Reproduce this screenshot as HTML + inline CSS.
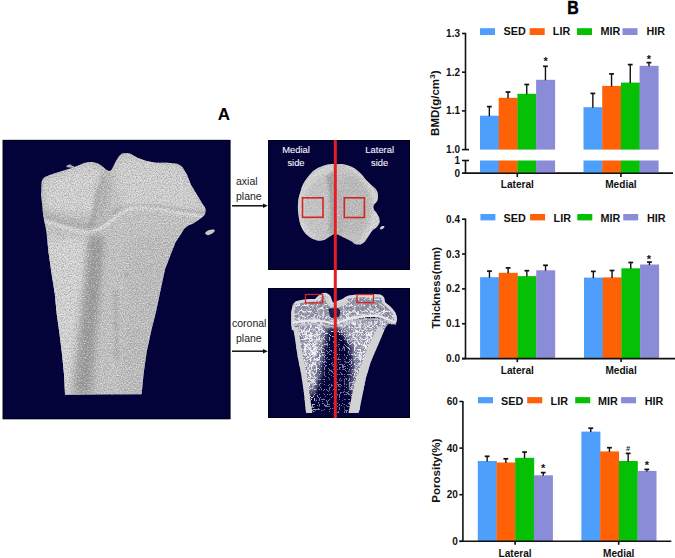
<!DOCTYPE html>
<html><head><meta charset="utf-8"><style>
*{margin:0;padding:0}
html,body{width:675px;height:558px;background:#fff;overflow:hidden}
svg{display:block}
text{font-family:"Liberation Sans", sans-serif}
.ax{stroke:#111;stroke-width:1.6;fill:none}
.eb{stroke:#111;stroke-width:1.4}
.ec{stroke:#111;stroke-width:1.7}
.lg{font-size:10.8px;font-weight:bold;fill:#111}
.tk{font-size:10px;font-weight:bold;fill:#111}
.xl{font-size:10.1px;font-weight:bold;fill:#111}
.yt{font-size:10.6px;font-weight:bold;fill:#111}
.st{font-size:11px;font-weight:bold;fill:#111;text-anchor:middle}
.hs{font-size:7.5px;font-weight:bold;fill:#222;text-anchor:middle}
.pl{font-size:9.4px;fill:#f4f4fc;stroke:#f4f4fc;stroke-width:0.1}
.ar{font-size:10.5px;fill:#222}
.AB{font-size:17px;font-weight:bold;fill:#000}
.B{font-size:18.5px;font-weight:bold;fill:#000}
</style></head>
<body><svg width="675" height="558" viewBox="0 0 675 558">
<defs>
</defs>
<rect x="2.7" y="139.9" width="227.7" height="279.3" fill="#03033a"/>
<rect x="268" y="140" width="142" height="130" fill="#03033a"/>
<rect x="268" y="288" width="142" height="130" fill="#03033a"/>
<defs>
<clipPath id="cb"><path id="pb" d="M41.6,182.6 C42,179 44,177 46.1,176.4 L53.3,173.7 L62.3,171 L71.2,168.3 L80.2,164.7 C84,163 87,162 89.1,162 C93,162 96,162.5 99,164 C103,166 105,169 107.5,170.5 C109.5,171.5 111,171 112,169 L116,161.1 C118,157 120,155 122,153.5 C125,152.5 128,153 130,153.5 L137.6,157.8 L145.5,160.8 L155.3,162.7 L167.2,162.7 L177,163.7 C180,165 182,166 183,168 L186.9,174.6 L190.8,184.4 L196.7,194.3 L202.6,204.1 C205,207 206,209 205.6,211 C205.5,213 205,214 204,215.5 L198.7,219.9 L192.8,223.8 L187.9,225.8 C185,227.5 183.5,230 181.7,233 L175.6,242.2 L169.6,257.4 L165,269.6 L160.4,290.9 L155.9,312.2 L151.3,330.4 L146.7,351.7 L143.7,373 L141.6,394.3 L65,394.8 L64.1,375.5 L62.1,355 L59.6,334.4 L56.7,313.9 L54.7,293.3 L51.4,272.8 L48.5,252.2 L46.4,231.7 L43.2,215.2 L41.1,194.7 Z"/></clipPath>
<filter id="bl3"><feGaussianBlur stdDeviation="3"/></filter>
<filter id="bl2"><feGaussianBlur stdDeviation="1.6"/></filter>
<filter id="bl1"><feGaussianBlur stdDeviation="0.8"/></filter>
<filter id="gr" x="0" y="0" width="100%" height="100%"><feTurbulence type="fractalNoise" baseFrequency="0.85" numOctaves="3" seed="7"/><feColorMatrix type="matrix" values="0 0 0 0 0.25  0 0 0 0 0.25  0 0 0 0 0.25  3.2 0 0 0 -1.5"/></filter>
<filter id="gw" x="0" y="0" width="100%" height="100%"><feTurbulence type="fractalNoise" baseFrequency="0.85" numOctaves="3" seed="7"/><feColorMatrix type="matrix" values="0 0 0 0 1  0 0 0 0 1  0 0 0 0 1  -3.2 0 0 0 1.6"/></filter>
</defs>
<use href="#pb" fill="#c2c2c2"/>
<g clip-path="url(#cb)">
  <!-- left shaft brighter -->
  <path d="M44,240 L92,236 L80,395 L60,395 Z" fill="#d4d4d4" filter="url(#bl3)"/>
  <!-- condyle tops brighter -->
  <path d="M45,180 C60,172 85,165 98,168 C104,180 100,200 96,212 C80,214 60,212 46,208 Z" fill="#d2d2d2" filter="url(#bl3)"/>
  <path d="M118,160 C130,156 160,162 180,166 C190,180 200,200 200,212 C180,210 150,206 125,210 C118,195 115,175 118,160 Z" fill="#d0d0d0" filter="url(#bl3)"/>
  <!-- left condyle crescent -->
  <path d="M106,171 C101,182 99,196 97,212 C96,218 94,224 90,229 L86,228 C91,220 93,212 94,204 C96,192 100,180 106,171 Z" fill="#8a8a8a" filter="url(#bl2)" opacity="0.6"/>
  <!-- notch shadow -->
  <path d="M104,170 C110,175 112,185 108,205 C104,215 100,222 96,226 C94,215 98,195 100,180 Z" fill="#9a9a9a" filter="url(#bl3)" opacity="0.45"/>
  <!-- shadow above growth plate left -->
  <path d="M42,210 C60,216 80,222 96,224 C100,222 106,218 112,210 L112,216 C104,224 98,230 90,230 C74,228 58,224 42,219 Z" fill="#a0a0a0" filter="url(#bl2)" opacity="0.5"/>
  <!-- shadow above growth plate right -->
  <path d="M112,210 C125,203 145,203 165,206 C180,208 195,210 206,212 L206,215 C190,213 170,210 150,209 C135,208 122,210 114,216 Z" fill="#a0a0a0" filter="url(#bl1)" opacity="0.5"/>
  <!-- growth plate light band -->
  <path d="M42,220 C55,224 70,230 84.4,232.2 C92,233 100,230 111,221 C117,215 124,210 133.3,207.8 C145,206.5 160,209 184.4,214 L206,217" fill="none" stroke="#e2e2e2" stroke-width="2.6" filter="url(#bl1)"/>
  <!-- dark streak -->
  <path d="M88,236 L104,236 C102,280 96,330 92,395 L72,395 C78,330 85,280 88,236 Z" fill="#959595" filter="url(#bl3)" opacity="0.85"/>
  <path d="M94,236 L100,236 C99,280 92,340 86,395 L80,395 C85,340 92,280 94,236 Z" fill="#8a8a8a" filter="url(#bl3)" opacity="0.35"/>
  <path d="M113,290 L118,290 L119,360 L114,360 Z" fill="#a0a0a0" filter="url(#bl2)" opacity="0.5"/>
  <circle cx="126" cy="275" r="1.8" fill="#909090" filter="url(#bl1)"/>
  <!-- right shaft midtone -->
  <path d="M130,240 L172,236 L145,395 L120,395 Z" fill="#b8b8b8" filter="url(#bl3)" opacity="0.6"/>
  <!-- texture -->
  <rect x="30" y="140" width="190" height="270" filter="url(#gr)" opacity="0.55"/>
  <rect x="30" y="140" width="190" height="270" filter="url(#gw)" opacity="0.5"/>
</g>
<!-- fragments -->
<path d="M66,167 C68,164 71,164 72,166 C74,165 75,167 73,168 Z" fill="#b0b0b0"/>
<path d="M205,233 C207,230 211,229 214,229.5 C216,230.5 214,233 210,234.5 C208,236 206,235 205,233 Z" fill="#c8c8c8"/>

<defs>
<clipPath id="ca"><path id="pa" d="M333.9,164 C330,164 328,164.4 325.8,164.9 C322,166 319,167 316.9,168.4 C313.5,170.5 311.5,172.5 309.7,174.7 C307.5,177.5 305.8,179.5 304.3,181.9 C302.5,185 301.5,188 300.8,190.8 C299.5,194.5 298.5,198 298.1,201.6 C297.8,205 297.8,209 298.1,212.3 C298.5,216 299,219.5 299.9,223.1 C301,226.5 302.5,229.5 304.3,232.1 C306.5,234.8 309,236.8 311.5,238.3 C314,239.6 316.5,240.5 318.7,240.7 C321.5,240.8 323.8,240.2 325.8,239.2 C328,238 329.8,236.8 331.2,235.6 L333.9,233.9 L338.4,234.7 L343.8,237.4 L350.9,241 C353,242.5 354.5,244 356.3,244.6 L360.8,244.6 C362.5,243.5 364,242.5 365.3,241 L368.9,235.6 L372.4,230.3 C375,228.5 376.8,227.5 377.8,225.8 C379,224 379.8,222.5 379.6,221.3 C379.5,219.5 379.5,218.5 378.7,216.8 L376,212.3 C374.5,210.5 373.5,209.5 373.3,207.9 C373.3,206 373.6,205 374.2,204.3 C375.8,202.5 377.2,201.5 377.5,199.8 C378,197.5 378.2,195.5 377.8,193.5 C377.2,191 376.3,189.5 375.1,188.2 L370.6,184.6 L365.3,179.2 C363.5,176.5 361.3,174 359,172 C356.5,169.5 353.8,167.8 350.9,166.6 C348,165.3 345,164.5 342,164 Z"/></clipPath>
</defs>
<use href="#pa" fill="#c3c3c3"/>
<g clip-path="url(#ca)">
  <path d="M298,200 C300,180 315,166 334,164 L334,172 C320,174 306,185 304,205 C303,222 310,236 322,238 L300,240 Z" fill="#d2d2d2" filter="url(#bl2)"/>
  <path d="M326,176 C330,188 331,212 329,234 L334,234 L334,172 Z" fill="#8e8e8e" filter="url(#bl2)" opacity="0.75"/>
  <path d="M337,190 C340,205 340,220 338,234 L342,236 C344,222 344,205 340,188 Z" fill="#999" filter="url(#bl2)" opacity="0.5"/>
  <path d="M338,178 C345,172 360,176 368,188 C374,200 372,214 366,226 C358,238 346,236 340,232 Z" fill="#b4b4b4" filter="url(#bl3)" opacity="0.7"/>
  <path d="M342,164 C355,166 365,175 372,186 L378,194 L380,222 L372,232 L364,242 L357,245 L362,238 C370,226 375,212 372,198 C368,184 358,172 342,166 Z" fill="#d4d4d4" filter="url(#bl2)"/>
  <rect x="290" y="155" width="100" height="100" filter="url(#gr)" opacity="0.3"/>
  <rect x="290" y="155" width="100" height="100" filter="url(#gw)" opacity="0.4"/>
</g>
<path d="M380,228 C381,226 383.5,225.5 384.5,226.5 C384.5,228 382.5,229.5 380.5,229.5 Z" fill="#d0d0d0"/>
<rect x="302.5" y="197.8" width="20.5" height="19.5" fill="none" stroke="#d42525" stroke-width="1.6"/>
<rect x="344.3" y="197.8" width="20.1" height="19.7" fill="none" stroke="#d42525" stroke-width="1.6"/>

<defs>
<clipPath id="cc"><path id="pc" d="M294.4,304.5 C296,302.5 297,302 298.6,301.9 L305.4,300.6 L315.7,300.2 C318,298 320,295.5 321.6,295.1 C323,294.4 324.5,294.2 325.9,294.3 C327.5,295 328.7,296 329.3,296.8 C330.2,298.5 330.6,300.5 331,301.9 L333.6,304.5 L336.1,302.8 L342.9,300.2 C345,299 346,298 347.2,297.7 L348.9,296.8 L356.6,296 L373.6,295.5 L380.4,296 C381.8,296.5 382.6,297.5 383,298.5 L383.8,302.8 C385.5,304.5 387.3,305.8 388.9,307 C391,309 392.8,311 394,313 C395,315 395.6,317 395.7,319 C395.7,320.5 395.4,321.7 394.9,322.4 L390.6,323.2 C388,324 386,326 384.4,330 L378,345 L370.6,362.3 L365.8,378.4 L362.6,394.5 L359.4,410.6 L358.5,413 L306.1,413 L305.6,409.6 L303.8,391.7 L301.1,373.8 L297.5,355.8 L294.9,337.9 L293.1,327.2 L292.7,324.1 L292.7,312.1 Z"/></clipPath>
<filter id="trab" x="0" y="0" width="100%" height="100%"><feTurbulence type="turbulence" baseFrequency="0.17" numOctaves="2" seed="5"/><feColorMatrix type="matrix" values="0 0 0 0 0.9  0 0 0 0 0.9  0 0 0 0 0.92  -7 0 0 0 1.35"/></filter>
<filter id="trabM" x="0" y="0" width="100%" height="100%"><feTurbulence type="turbulence" baseFrequency="0.18" numOctaves="2" seed="15"/><feColorMatrix type="matrix" values="0 0 0 0 0.9  0 0 0 0 0.9  0 0 0 0 0.92  -6 0 0 0 1.4"/></filter>
<filter id="trab2" x="0" y="0" width="100%" height="100%"><feTurbulence type="turbulence" baseFrequency="0.4" numOctaves="1" seed="9"/><feColorMatrix type="matrix" values="0 0 0 0 0.98  0 0 0 0 0.98  0 0 0 0 1  -9 0 0 0 1.1"/></filter>
<filter id="trabS" x="0" y="0" width="100%" height="100%"><feTurbulence type="turbulence" baseFrequency="0.2" numOctaves="1" seed="21"/><feColorMatrix type="matrix" values="0 0 0 0 0.95  0 0 0 0 0.95  0 0 0 0 0.97  -30 0 0 0 1.5"/></filter>
<filter id="bl4"><feGaussianBlur stdDeviation="3"/></filter>
<mask id="mmeta" maskUnits="userSpaceOnUse" x="285" y="290" width="125" height="130">
  <g filter="url(#bl4)">
    <path d="M296,322 L328,324 L325,338 L322,352 L320,372 L314,392 L308,396 L300,360 Z" fill="#fff"/>
    <path d="M340,322 L392,318 L382,338 L372,360 L364,380 L356,395 L351,390 L354,360 L350,342 L343,332 Z" fill="#fff"/>
    <rect x="292" y="318" width="104" height="10" fill="#fff"/>
  </g>
</mask>
<mask id="msp" maskUnits="userSpaceOnUse" x="285" y="290" width="125" height="130">
  <rect x="285" y="330" width="125" height="90" fill="#fff"/>
  <path d="M326,338 L346,338 L352,360 L352,416 L314,416 L318,380 L322,360 Z" fill="#000" opacity="0.45" filter="url(#bl4)"/>
</mask>
</defs>
<g clip-path="url(#cc)">
  <!-- epiphysis base -->
  <path d="M290,290 L400,290 L400,323 C385,318 370,314 356.6,317.3 C348,319 342,321 334.4,324.1 C326,322 315,320.5 295,322.4 L290,323 Z" fill="#8a8a9e"/>
  <rect x="285" y="290" width="125" height="36" filter="url(#trab)"/>
  <rect x="285" y="290" width="125" height="36" filter="url(#trab2)" opacity="0.35"/>
  <!-- metaphysis dense -->
  <g mask="url(#mmeta)">
    <rect x="285" y="318" width="125" height="100" fill="#9090a6"/>
    <rect x="285" y="318" width="125" height="100" filter="url(#trabM)"/>
    <rect x="285" y="318" width="125" height="100" filter="url(#trab2)" opacity="0.6"/>
  </g>
  <g mask="url(#msp)"><rect x="285" y="330" width="125" height="90" filter="url(#trabS)" opacity="0.85"/></g>
  <path d="M324,296 C327,296 330,299 331.5,303 C333,306 336,305 338,303 C341,301 344,299 347,298.5 L348,303 C344,305 341,307 338,307.5 C334,308 331,307 328,305 C326,302 324.5,299 324,296 Z" fill="#d0d0d4"/>
  <!-- notch hole -->
  <path d="M328.5,309 C330,307.5 333,309 334,308 C336,306.5 338,308 339.5,309.5 C341,312 340,315 338.5,317 C336,318.5 334,317 332,318 C330,317 329,313 328.5,309 Z" fill="#03033a" opacity="0.85"/>
</g>
<!-- cortical shells -->
<path d="M293.1,327.2 L294.9,337.9 L297.5,355.8 L301.1,373.8 L303.8,391.7 L305.6,409.6 L306.1,413 L312.3,413 L311.9,409.6 L309.2,391.7 L306.5,373.8 L302.9,355.8 C301,345 299.5,336 298.4,327 Z" fill="#d2d2d4"/>
<path d="M384.4,330 L378,345 L370.6,362.3 L365.8,378.4 L362.6,394.5 L359.4,410.6 L358.5,413 L348.5,413 L348.9,410.6 L352.1,394.5 L356.1,378.4 L362.6,362.3 C366,352 369,344 372.5,337 C375,332 377.5,328 379,326 Z" fill="#d2d2d4"/>
<!-- cortical rim top -->
<path d="M294.4,304.5 C296,302.5 297,302 298.6,301.9 L305.4,300.6 L315.7,300.2 C318,298 320,295.5 321.6,295.1 C323,294.4 324.5,294.2 325.9,294.3 C327.5,295 328.7,296 329.3,296.8 C330.2,298.5 330.6,300.5 331,301.9 L333.6,304.5 M336.1,302.8 L342.9,300.2 C345,299 346,298 347.2,297.7 L348.9,296.8 L356.6,296 L373.6,295.5 L380.4,296 C381.8,296.5 382.6,297.5 383,298.5 L383.8,302.8 C385.5,304.5 387.3,305.8 388.9,307 C391,309 392.8,311 394,313 C395,315 395.6,317 395.7,319 C395.7,320.5 395.4,321.7 394.9,322.4 L390.6,323.2" fill="none" stroke="#d8d8da" stroke-width="2.8"/>
<path d="M294.4,304.5 L292.7,312.1 L292.7,324.1 L293.5,330" fill="none" stroke="#d4d4d6" stroke-width="3.2"/>
<!-- growth plate -->
<path d="M293,322.8 C300,321.5 305,320.8 310.6,320.7 C316,320.6 320,321 324.2,321.5 C328,322.2 331,323.2 334.4,324.1 C337,323.2 339,322.3 341.2,321.5 C346,319.8 351,318.2 356.6,317.3 C362,316.4 368,315.6 373.6,315.6 C379,315.8 383,317 387.2,319 L394.5,322.4" fill="none" stroke="#e8e8ea" stroke-width="2.2"/>
<path d="M291,325 C300,324.5 310,324 320,324.5 C326,325.5 331,326.5 334.5,327 C345,322.5 360,319.5 375,319 C385,319.5 390,321.5 396,324.5" fill="none" stroke="#c4c4cc" stroke-width="1.4" opacity="0.7"/>
<rect x="305.5" y="294.5" width="17.2" height="8.4" fill="none" stroke="#d42525" stroke-width="1.3"/>
<rect x="357" y="294.5" width="16.5" height="8.1" fill="none" stroke="#d42525" stroke-width="1.3"/>

<rect x="3.2" y="140.4" width="226.7" height="278.3" fill="none" stroke="#000014" stroke-width="1" opacity="0.8"/>
<rect x="268.5" y="140.5" width="141" height="129" fill="none" stroke="#000014" stroke-width="1" opacity="0.8"/>
<rect x="268.5" y="288.5" width="141" height="129" fill="none" stroke="#000014" stroke-width="1" opacity="0.8"/>
<line x1="335.3" y1="140" x2="335.3" y2="418" stroke="#e41c24" stroke-width="3"/>
<text x="296" y="153" class="pl" text-anchor="middle">Medial</text>
<text x="296" y="165.5" class="pl" text-anchor="middle">side</text>
<text x="379.7" y="153" class="pl" text-anchor="middle">Lateral</text>
<text x="379.7" y="165.5" class="pl" text-anchor="middle">side</text>
<text x="236" y="185.4" class="ar">axial</text>
<text x="236" y="199.8" class="ar">plane</text>
<line x1="232" y1="205.8" x2="263" y2="205.8" stroke="#111" stroke-width="1.5"/>
<path d="M263,203.6 L267.8,205.8 L263,208 Z" fill="#111"/>
<text x="232" y="327.2" class="ar">coronal</text>
<text x="236" y="341.5" class="ar">plane</text>
<line x1="232" y1="351.2" x2="263" y2="351.2" stroke="#111" stroke-width="1.5"/>
<path d="M263,349 L267.8,351.2 L263,353.4 Z" fill="#111"/>
<text x="224" y="120.2" class="AB" text-anchor="middle">A</text>
<text transform="translate(573,14) scale(0.86,1)" class="B" text-anchor="middle" stroke="#000" stroke-width="0.5">B</text>
<line x1="465.5" y1="32.8" x2="465.5" y2="150" class="ax"/>
<line x1="462" y1="33.5" x2="465.5" y2="33.5" class="ax"/>
<line x1="462" y1="72.2" x2="465.5" y2="72.2" class="ax"/>
<line x1="462" y1="110.9" x2="465.5" y2="110.9" class="ax"/>
<line x1="462" y1="149.6" x2="469" y2="149.6" class="ax"/>
<line x1="462" y1="160.5" x2="469" y2="160.5" class="ax"/>
<line x1="465.5" y1="160.5" x2="465.5" y2="173.2" class="ax"/>
<line x1="462" y1="173.2" x2="673" y2="173.2" class="ax"/>
<line x1="517.3" y1="173" x2="517.3" y2="177" class="ax"/>
<line x1="620.9" y1="173" x2="620.9" y2="177" class="ax"/>
<text x="460" y="37.0" class="tk" text-anchor="end">1.3</text>
<text x="460" y="75.7" class="tk" text-anchor="end">1.2</text>
<text x="460" y="114.4" class="tk" text-anchor="end">1.1</text>
<text x="460" y="153.1" class="tk" text-anchor="end">1.0</text>
<text x="460" y="164.0" class="tk" text-anchor="end">1</text>
<text x="460" y="176.7" class="tk" text-anchor="end">0</text>
<rect x="480" y="28.2" width="15" height="6.80" fill="#4e9ffc"/>
<text x="503.5" y="35.3" class="lg">SED</text>
<rect x="529.7" y="28.2" width="15" height="6.80" fill="#ff6206"/>
<text x="552.8" y="35.3" class="lg">LIR</text>
<rect x="577" y="28.2" width="15" height="6.80" fill="#06c006"/>
<text x="600.4" y="35.3" class="lg">MIR</text>
<rect x="622.5" y="28.2" width="15" height="6.80" fill="#8a8cd8"/>
<text x="646.5" y="35.3" class="lg">HIR</text>
<rect x="480.00" y="115.7" width="19.00" height="33.90" fill="#4e9ffc"/>
<rect x="498.70" y="97.8" width="19.00" height="51.80" fill="#ff6206"/>
<rect x="517.40" y="93.8" width="19.00" height="55.80" fill="#06c006"/>
<rect x="536.10" y="79.8" width="19.00" height="69.80" fill="#8a8cd8"/>
<line x1="489.35" y1="116.2" x2="489.35" y2="106.6" class="eb"/>
<line x1="486.95" y1="106.6" x2="491.75" y2="106.6" class="ec"/>
<line x1="508.05" y1="98.3" x2="508.05" y2="92" class="eb"/>
<line x1="505.65" y1="92" x2="510.45" y2="92" class="ec"/>
<line x1="526.75" y1="94.3" x2="526.75" y2="84.5" class="eb"/>
<line x1="524.35" y1="84.5" x2="529.15" y2="84.5" class="ec"/>
<line x1="545.45" y1="80.3" x2="545.45" y2="66.3" class="eb"/>
<line x1="543.05" y1="66.3" x2="547.85" y2="66.3" class="ec"/>
<rect x="583.50" y="107.2" width="19.00" height="42.40" fill="#4e9ffc"/>
<rect x="602.20" y="85.9" width="19.00" height="63.70" fill="#ff6206"/>
<rect x="620.90" y="82.6" width="19.00" height="67.00" fill="#06c006"/>
<rect x="639.60" y="65.8" width="19.00" height="83.80" fill="#8a8cd8"/>
<line x1="592.85" y1="107.7" x2="592.85" y2="93.4" class="eb"/>
<line x1="590.45" y1="93.4" x2="595.25" y2="93.4" class="ec"/>
<line x1="611.55" y1="86.4" x2="611.55" y2="73.9" class="eb"/>
<line x1="609.15" y1="73.9" x2="613.95" y2="73.9" class="ec"/>
<line x1="630.25" y1="83.1" x2="630.25" y2="64.6" class="eb"/>
<line x1="627.85" y1="64.6" x2="632.65" y2="64.6" class="ec"/>
<line x1="648.95" y1="66.3" x2="648.95" y2="62.6" class="eb"/>
<line x1="646.55" y1="62.6" x2="651.35" y2="62.6" class="ec"/>
<rect x="480.00" y="160.5" width="19" height="12.7" fill="#4e9ffc"/>
<rect x="583.50" y="160.5" width="19" height="12.7" fill="#4e9ffc"/>
<rect x="498.70" y="160.5" width="19" height="12.7" fill="#ff6206"/>
<rect x="602.20" y="160.5" width="19" height="12.7" fill="#ff6206"/>
<rect x="517.40" y="160.5" width="19" height="12.7" fill="#06c006"/>
<rect x="620.90" y="160.5" width="19" height="12.7" fill="#06c006"/>
<rect x="536.10" y="160.5" width="19" height="12.7" fill="#8a8cd8"/>
<rect x="639.60" y="160.5" width="19" height="12.7" fill="#8a8cd8"/>
<line x1="462" y1="173.2" x2="673" y2="173.2" class="ax"/>
<text x="545.6" y="65.3" class="st">*</text>
<text x="649" y="62.6" class="st">*</text>
<text x="517.3" y="188" class="xl" text-anchor="middle">Lateral</text>
<text x="620.9" y="188" class="xl" text-anchor="middle">Medial</text>
<text transform="translate(439,103.2) rotate(-90) scale(1.09,1)" class="yt" text-anchor="middle">BMD(g/cm<tspan dy="-4" font-size="7.5">3</tspan><tspan dy="4">)</tspan></text>
<line x1="465.5" y1="218.5" x2="465.5" y2="358.6" class="ax"/>
<line x1="462" y1="219.20" x2="465.5" y2="219.20" class="ax"/>
<text x="460" y="222.70" class="tk" text-anchor="end">0.4</text>
<line x1="462" y1="254.05" x2="465.5" y2="254.05" class="ax"/>
<text x="460" y="257.55" class="tk" text-anchor="end">0.3</text>
<line x1="462" y1="288.90" x2="465.5" y2="288.90" class="ax"/>
<text x="460" y="292.40" class="tk" text-anchor="end">0.2</text>
<line x1="462" y1="323.75" x2="465.5" y2="323.75" class="ax"/>
<text x="460" y="327.25" class="tk" text-anchor="end">0.1</text>
<line x1="462" y1="358.60" x2="465.5" y2="358.60" class="ax"/>
<text x="460" y="362.10" class="tk" text-anchor="end">0.0</text>
<rect x="480.4" y="214" width="15" height="6.40" fill="#4e9ffc"/>
<text x="503.5" y="221.6" class="lg">SED</text>
<rect x="530.1" y="214" width="15" height="6.40" fill="#ff6206"/>
<text x="553.6" y="221.6" class="lg">LIR</text>
<rect x="577.3" y="214" width="15" height="6.40" fill="#06c006"/>
<text x="600.4" y="221.6" class="lg">MIR</text>
<rect x="623.2" y="214" width="15" height="6.40" fill="#8a8cd8"/>
<text x="646.9" y="221.6" class="lg">HIR</text>
<rect x="480.10" y="277.2" width="19.00" height="81.40" fill="#4e9ffc"/>
<rect x="498.80" y="272.8" width="19.00" height="85.80" fill="#ff6206"/>
<rect x="517.50" y="276.1" width="19.00" height="82.50" fill="#06c006"/>
<rect x="536.20" y="270.3" width="19.00" height="88.30" fill="#8a8cd8"/>
<line x1="489.45" y1="277.7" x2="489.45" y2="271.1" class="eb"/>
<line x1="487.05" y1="271.1" x2="491.85" y2="271.1" class="ec"/>
<line x1="508.15" y1="273.3" x2="508.15" y2="267.9" class="eb"/>
<line x1="505.75" y1="267.9" x2="510.55" y2="267.9" class="ec"/>
<line x1="526.85" y1="276.6" x2="526.85" y2="270.7" class="eb"/>
<line x1="524.45" y1="270.7" x2="529.25" y2="270.7" class="ec"/>
<line x1="545.55" y1="270.8" x2="545.55" y2="265.3" class="eb"/>
<line x1="543.15" y1="265.3" x2="547.95" y2="265.3" class="ec"/>
<rect x="584.00" y="277.6" width="19.00" height="81.00" fill="#4e9ffc"/>
<rect x="602.70" y="277.4" width="19.00" height="81.20" fill="#ff6206"/>
<rect x="621.40" y="268.3" width="19.00" height="90.30" fill="#06c006"/>
<rect x="640.10" y="264.5" width="19.00" height="94.10" fill="#8a8cd8"/>
<line x1="593.35" y1="278.1" x2="593.35" y2="271.4" class="eb"/>
<line x1="590.95" y1="271.4" x2="595.75" y2="271.4" class="ec"/>
<line x1="612.05" y1="277.9" x2="612.05" y2="270.5" class="eb"/>
<line x1="609.65" y1="270.5" x2="614.45" y2="270.5" class="ec"/>
<line x1="630.75" y1="268.8" x2="630.75" y2="262.5" class="eb"/>
<line x1="628.35" y1="262.5" x2="633.15" y2="262.5" class="ec"/>
<line x1="649.45" y1="265.0" x2="649.45" y2="262.1" class="eb"/>
<line x1="647.05" y1="262.1" x2="651.85" y2="262.1" class="ec"/>
<line x1="462" y1="358.6" x2="675" y2="358.6" class="ax"/>
<line x1="517.3" y1="358.6" x2="517.3" y2="362.1" class="ax"/>
<line x1="621.1" y1="358.6" x2="621.1" y2="362.1" class="ax"/>
<text x="649" y="262.8" class="st">*</text>
<text x="517.3" y="373.5" class="xl" text-anchor="middle">Lateral</text>
<text x="621.1" y="373.5" class="xl" text-anchor="middle">Medial</text>
<text transform="translate(439.5,287.9) rotate(-90) scale(1.055,1)" class="yt" text-anchor="middle">Thickness(mm)</text>
<line x1="462.9" y1="401" x2="462.9" y2="541.3" class="ax"/>
<line x1="459.4" y1="401.50" x2="462.9" y2="401.50" class="ax"/>
<text x="457.8" y="405.00" class="tk" text-anchor="end">60</text>
<line x1="459.4" y1="448.10" x2="462.9" y2="448.10" class="ax"/>
<text x="457.8" y="451.60" class="tk" text-anchor="end">40</text>
<line x1="459.4" y1="494.70" x2="462.9" y2="494.70" class="ax"/>
<text x="457.8" y="498.20" class="tk" text-anchor="end">20</text>
<line x1="459.4" y1="541.30" x2="462.9" y2="541.30" class="ax"/>
<text x="457.8" y="544.80" class="tk" text-anchor="end">0</text>
<rect x="478" y="397.1" width="15" height="6.20" fill="#4e9ffc"/>
<text x="501.1" y="404.6" class="lg">SED</text>
<rect x="527.2" y="397.1" width="15" height="6.20" fill="#ff6206"/>
<text x="550.6" y="404.6" class="lg">LIR</text>
<rect x="575.2" y="397.1" width="15" height="6.20" fill="#06c006"/>
<text x="598" y="404.6" class="lg">MIR</text>
<rect x="621.1" y="397.1" width="15" height="6.20" fill="#8a8cd8"/>
<text x="644.8" y="404.6" class="lg">HIR</text>
<rect x="477.80" y="461" width="19.00" height="80.30" fill="#4e9ffc"/>
<rect x="496.50" y="462.5" width="19.00" height="78.80" fill="#ff6206"/>
<rect x="515.20" y="457.8" width="19.00" height="83.50" fill="#06c006"/>
<rect x="533.90" y="475.3" width="19.00" height="66.00" fill="#8a8cd8"/>
<line x1="487.15" y1="461.5" x2="487.15" y2="456.3" class="eb"/>
<line x1="484.75" y1="456.3" x2="489.55" y2="456.3" class="ec"/>
<line x1="505.85" y1="463.0" x2="505.85" y2="458.8" class="eb"/>
<line x1="503.45" y1="458.8" x2="508.25" y2="458.8" class="ec"/>
<line x1="524.55" y1="458.3" x2="524.55" y2="452.1" class="eb"/>
<line x1="522.15" y1="452.1" x2="526.95" y2="452.1" class="ec"/>
<line x1="543.25" y1="475.8" x2="543.25" y2="472.6" class="eb"/>
<line x1="540.85" y1="472.6" x2="545.65" y2="472.6" class="ec"/>
<rect x="581.40" y="431.6" width="19.00" height="109.70" fill="#4e9ffc"/>
<rect x="600.10" y="451.4" width="19.00" height="89.90" fill="#ff6206"/>
<rect x="618.80" y="461" width="19.00" height="80.30" fill="#06c006"/>
<rect x="637.50" y="470.9" width="19.00" height="70.40" fill="#8a8cd8"/>
<line x1="590.75" y1="432.1" x2="590.75" y2="428.2" class="eb"/>
<line x1="588.35" y1="428.2" x2="593.15" y2="428.2" class="ec"/>
<line x1="609.45" y1="451.9" x2="609.45" y2="447.7" class="eb"/>
<line x1="607.05" y1="447.7" x2="611.85" y2="447.7" class="ec"/>
<line x1="628.15" y1="461.5" x2="628.15" y2="453.4" class="eb"/>
<line x1="625.75" y1="453.4" x2="630.55" y2="453.4" class="ec"/>
<line x1="646.85" y1="471.4" x2="646.85" y2="469.4" class="eb"/>
<line x1="644.45" y1="469.4" x2="649.25" y2="469.4" class="ec"/>
<line x1="459.4" y1="541.3" x2="671.3" y2="541.3" class="ax"/>
<line x1="515.1" y1="541.3" x2="515.1" y2="544.8" class="ax"/>
<line x1="618.7" y1="541.3" x2="618.7" y2="544.8" class="ax"/>
<text x="543.2" y="472.4" class="st">*</text>
<text x="646.8" y="468.8" class="st">*</text>
<text x="628" y="451" class="hs">#</text>
<text x="515.1" y="556.6" class="xl" text-anchor="middle">Lateral</text>
<text x="618.7" y="556.6" class="xl" text-anchor="middle">Medial</text>
<text transform="translate(439.5,470.7) rotate(-90) scale(1.09,1)" class="yt" text-anchor="middle">Porosity(%)</text>
</svg></body></html>
